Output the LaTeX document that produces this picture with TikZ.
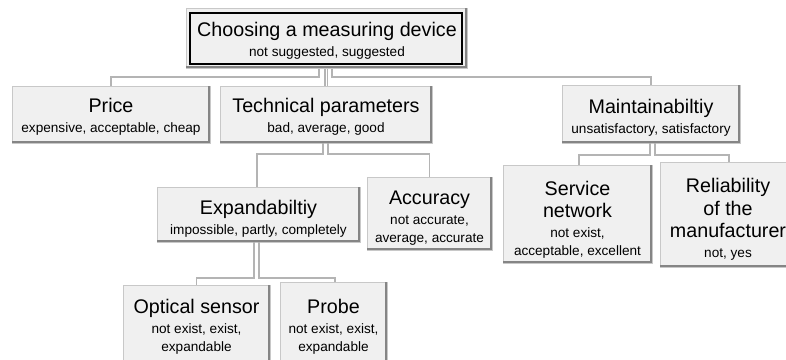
\documentclass[tikz,border=0pt]{standalone}
\usepackage{fontspec}
\setmainfont{Liberation Sans}
\definecolor{boxfill}{HTML}{F0F0F0}
\definecolor{edgelight}{HTML}{C8C8C8}
\definecolor{edgedark}{HTML}{858585}
\definecolor{wirecol}{HTML}{B4B4B4}
\newcommand{\nodetitle}{\fontsize{19.7}{22.5}\selectfont}
\newcommand{\nodesub}{\fontsize{13.6}{17.5}\selectfont}
% raised grey panel: name, centre x, centre y, width, height
\newcommand{\panel}[5]{%
  \node[panelbox, minimum width=#4pt, minimum height=#5pt] (#1) at (#2,#3) {};
  \draw[panelshade] ([xshift=-1pt]#1.north east) -- ([xshift=-1pt,yshift=1pt]#1.south east) -- ([yshift=1pt]#1.south west);
}
\tikzset{
  panelbox/.style={rectangle, fill=boxfill, draw=edgelight, line width=0.8pt, inner sep=0pt, outer sep=0pt},
  panelshade/.style={draw=edgedark, line width=2pt},
  caption/.style={align=center, inner sep=0pt, font=\nodetitle, text=black},
  wire/.style={draw=wirecol, line width=1.4pt},
}
\begin{document}
\begin{tikzpicture}[x=1pt, y=-1pt]
\useasboundingbox (0,0) rectangle (786,359);
\clip (0,0) rectangle (786,359);

% connectors, drawn first so the panels sit on top
\coordinate (rootbase) at (326.5,68);
\draw[wire] ([xshift=-7.5pt]rootbase) -- ++(0,9) -| (111,86);
\draw[wire] ([xshift=5.5pt]rootbase) -- ++(0,9) -| (651,85);
\draw[wire] ([xshift=-1.5pt]rootbase) -- ++(0,18);
\draw[wire] ([xshift=1pt]rootbase) -- ++(0,18);

% panels
\panel{root}{326.5}{38}{281}{60}
\node[draw=black, line width=2.2pt, minimum width=272pt, minimum height=51pt, inner sep=0pt] (rootframe) at (326,38.3) {};
\panel{price}{111}{114.5}{198}{57}
\panel{tech}{326}{114.5}{212}{57}
\panel{maint}{651}{114}{178}{58}
\panel{expand}{258.5}{214.5}{203}{55}
\panel{accuracy}{429.5}{213.5}{125}{73}
\panel{service}{577.5}{214}{149}{98}
\panel{reliab}{728}{214.5}{136}{105}
\panel{optical}{196.5}{330}{147}{90}
\panel{probe}{333.5}{330}{107}{96}

% lower connectors
\draw[wire] ([xshift=-3pt]tech.south) -- ++(0,11) -| ([xshift=-1.5pt]expand.north);
\draw[wire] ([xshift=2pt]tech.south) -- ++(0,11) -| (accuracy.north);
\draw[wire] ([xshift=-1pt]maint.south) -- ++(0,12) -| ([xshift=1.5pt]service.north);
\draw[wire] ([xshift=4pt]maint.south) -- ++(0,12) -| ([xshift=1pt]reliab.north);
\draw[wire] ([xshift=-4.5pt]expand.south) -- ++(0,36) -| (optical.north);
\draw[wire] ([xshift=0.5pt]expand.south) -- ++(0,36) -| ([xshift=1.5pt]probe.north);

% texts
\node[caption] (root-t) at (327,41) {Choosing a measuring device\\[-2.5pt]{\nodesub not suggested, suggested}};
\node[caption] (price-t) at (111,117) {Price\\[-2.5pt]{\nodesub expensive, acceptable, cheap}};
\node[caption] (tech-t) at (326,117) {Technical parameters\\[-2.5pt]{\nodesub bad, average, good}};
\node[caption] (maint-t) at (651,118) {Maintainabiltiy\\[-2.5pt]{\nodesub unsatisfactory, satisfactory}};
\node[caption] (expand-t) at (258.5,218.5) {Expandabiltiy\\[-2.5pt]{\nodesub impossible, partly, completely}};
\node[caption] (accuracy-t) at (429.5,218) {Accuracy\\[-2.5pt]{\nodesub not accurate,}\\[-5pt]{\nodesub average, accurate}};
\node[caption] (service-t) at (577.5,219.5) {Service\\network\\[-2.5pt]{\nodesub not exist,}\\[-5pt]{\nodesub acceptable, excellent}};
\node[caption] (reliab-t) at (728,219.5) {Reliability\\of the\\manufacturer\\[-2.5pt]{\nodesub not, yes}};
\node[caption] (optical-t) at (196.5,327) {Optical sensor\\[-2.5pt]{\nodesub not exist, exist,}\\[-5pt]{\nodesub expandable}};
\node[caption] (probe-t) at (333.5,327) {Probe\\[-2.5pt]{\nodesub not exist, exist,}\\[-5pt]{\nodesub expandable}};
\end{tikzpicture}
\end{document}
